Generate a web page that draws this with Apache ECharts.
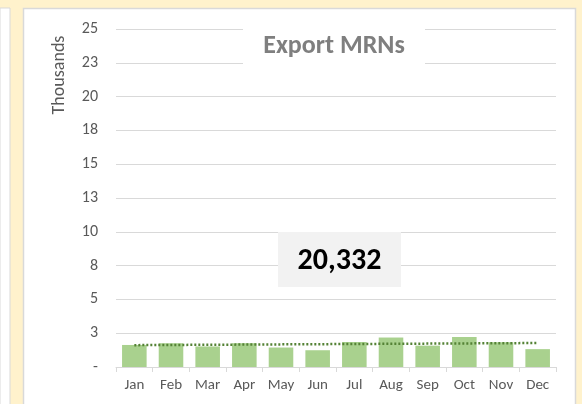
<!DOCTYPE html>
<html>
<head>
<meta charset="utf-8">
<script src="https://cdn.jsdelivr.net/npm/echarts@6/dist/echarts.min.js"></script>
<style>
  html, body { margin: 0; padding: 0; background: #FFF2CC; }
  #main { width: 582px; height: 404px; }
</style>
</head>
<body>
<div id="main"></div>
<script>
var months = ['Jan', 'Feb', 'Mar', 'Apr', 'May', 'Jun', 'Jul', 'Aug', 'Sep', 'Oct', 'Nov', 'Dec'];
var exportMrns = [1630, 1760, 1520, 1760, 1440, 1240, 1850, 2180, 1580, 2220, 1830, 1322];
var yTicks = [0, 2500, 5000, 7500, 10000, 12500, 15000, 17500, 20000, 22500, 25000];

// linear trendline (least squares) over the monthly values
function trend(vals) {
    var n = vals.length, sx = 0, sy = 0, sxy = 0, sxx = 0;
    for (var i = 0; i < n; i++) {
        sx += i; sy += vals[i]; sxy += i * vals[i]; sxx += i * i;
    }
    var b = (n * sxy - sx * sy) / (n * sxx - sx * sx);
    var a = (sy - b * sx) / n;
    return vals.map(function (v, i) { return a + b * i; });
}

var total = exportMrns.reduce(function (s, v) { return s + v; }, 0);
var font = 'Carlito, Lato, "Open Sans", sans-serif';

var myChart = echarts.init(document.getElementById('main'));
var option = {
    backgroundColor: '#FFF2CC',
    animation: false,
    textStyle: { fontFamily: font },
    grid: { left: 116, right: 26, top: 29, bottom: 37 },
    graphic: [
        // left white strip
        { type: 'rect', z: -10, shape: { x: 0, y: 8, width: 10, height: 400 },
          style: { fill: '#fff', stroke: '#D9D9D9', lineWidth: 1 } },
        // chart panel
        { type: 'rect', z: -10, shape: { x: 23.5, y: 8.5, width: 552, height: 400 },
          style: { fill: '#fff', stroke: '#D9D9D9', lineWidth: 1.5 } },
        // title backing
        { type: 'rect', z: 10, shape: { x: 243, y: 25, width: 182, height: 44 },
          style: { fill: '#fff' } },
        { type: 'text', z: 11, x: 334, y: 46,
          style: { text: 'Export MRNs', fill: '#7F7F7F', font: 'bold 26px ' + font,
                   align: 'center', verticalAlign: 'middle' } },
        // total box
        { type: 'rect', z: 10, shape: { x: 278, y: 232, width: 123, height: 55 },
          style: { fill: '#F2F2F2' } },
        { type: 'text', z: 11, x: 339.5, y: 261,
          style: { text: total.toLocaleString('en-US'), fill: '#000', font: 'bold 30px ' + font,
                   align: 'center', verticalAlign: 'middle' } },
        // display units label
        { type: 'text', z: 11, x: 59, y: 75, rotation: Math.PI / 2,
          style: { text: 'Thousands', fill: '#595959', font: '18px ' + font,
                   align: 'center', verticalAlign: 'middle' } }
    ],
    xAxis: {
        type: 'category',
        data: months,
        boundaryGap: true,
        axisLine: { lineStyle: { color: '#D9D9D9', width: 1 } },
        axisTick: { show: true, interval: 0, length: 5, lineStyle: { color: '#D9D9D9' } },
        axisLabel: { color: '#595959', fontSize: 15, margin: 11, interval: 0, fontFamily: font }
    },
    yAxis: {
        type: 'value',
        min: yTicks[0],
        max: yTicks[yTicks.length - 1],
        interval: 2500,
        axisLine: { show: false },
        axisTick: { show: false },
        splitLine: { lineStyle: { color: '#D9D9D9', width: 1 } },
        axisLabel: {
            color: '#595959', fontSize: 16, margin: 18, fontFamily: font,
            formatter: function (v) { return v === 0 ? '-' : String(Math.round(v / 1000)); }
        }
    },
    series: [
        {
            type: 'bar',
            data: exportMrns,
            barCategoryGap: '33%',
            itemStyle: { color: '#A9D18E' }
        },
        {
            type: 'line',
            data: trend(exportMrns),
            symbol: 'none',
            lineStyle: { color: '#548235', width: 2.5, type: [2, 2] },
            z: 5
        }
    ]
};
myChart.setOption(option, true);
</script>
</body>
</html>
